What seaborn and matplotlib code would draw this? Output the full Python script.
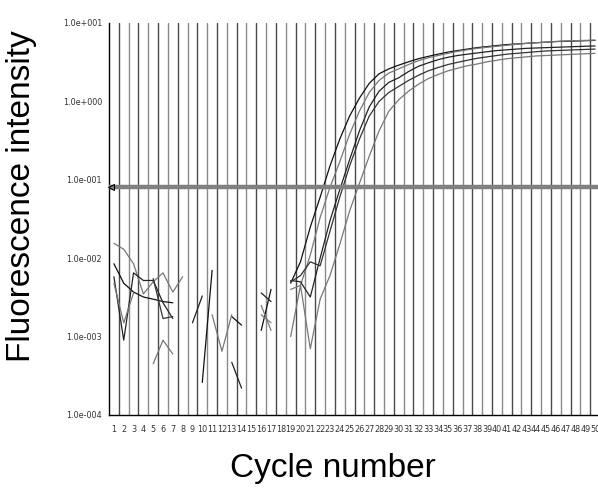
import numpy as np
import pandas as pd
import matplotlib
matplotlib.use("Agg")
import matplotlib.pyplot as plt
import matplotlib.font_manager as fm
import seaborn as sns

nan = np.nan
cycles = list(range(1, 51))

# amplification curves, fluorescence per cycle (nan = no point drawn)
curve_a = [0.0085, 0.0048, 0.0037, 0.0032, 0.003, 0.0028, 0.0027, nan, nan, 0.00026,
           0.007, nan, 0.0018, 0.0014, nan, 0.0012, 0.004, nan, 0.0048, 0.009,
           0.025, 0.06, 0.15, 0.33, 0.65, 1.1, 1.7, 2.25, 2.6, 2.9,
           3.2, 3.5, 3.75, 4.0, 4.25, 4.45, 4.65, 4.85, 5.0, 5.15,
           5.3, 5.4, 5.5, 5.6, 5.7, 5.8, 5.85, 5.9, 5.95, 6.0]
curve_b = [0.0155, 0.013, 0.0085, 0.0035, 0.005, 0.0065, 0.0037, 0.0058, nan, nan,
           0.0019, 0.00065, 0.0019, nan, nan, 0.0025, 0.0012, nan, 0.004, 0.0045,
           0.011, 0.033, 0.08, 0.17, 0.38, 0.75, 1.3, 1.85, 2.3, 2.6,
           2.95, 3.3, 3.6, 3.85, 4.1, 4.35, 4.55, 4.75, 4.9, 5.05,
           5.2, 5.35, 5.5, 5.6, 5.7, 5.8, 5.9, 5.95, 6.0, 6.05]
curve_c = [0.0058, 0.0009, 0.0065, 0.0052, 0.0052, 0.0027, 0.0017, nan, 0.0015, 0.0033,
           nan, nan, 0.00047, 0.00022, nan, 0.0036, 0.0028, nan, 0.0052, 0.005,
           0.0032, 0.01, 0.03, 0.075, 0.18, 0.42, 0.85, 1.35, 1.75, 2.0,
           2.4, 2.8, 3.1, 3.4, 3.65, 3.85, 4.0, 4.15, 4.3, 4.45,
           4.55, 4.65, 4.75, 4.8, 4.85, 4.9, 4.95, 5.0, 5.05, 5.1]
curve_d = [0.0048, 0.0015, 0.0036, nan, 0.00045, 0.0009, 0.0006, nan, nan, nan,
           nan, nan, nan, nan, nan, 0.0019, 0.0015, nan, 0.001, 0.0045,
           0.0007, 0.003, 0.006, 0.015, 0.04, 0.09, 0.2, 0.42, 0.75, 1.05,
           1.35, 1.65, 1.95, 2.2, 2.45, 2.65, 2.85, 3.0, 3.2, 3.35,
           3.5, 3.6, 3.7, 3.8, 3.85, 3.9, 3.95, 4.0, 4.05, 4.1]
curve_e = [nan, nan, nan, nan, 0.0055, 0.0017, 0.0018, nan, nan, nan,
           nan, nan, nan, nan, nan, nan, nan, nan, 0.005, 0.006,
           0.009, 0.008, 0.022, 0.06, 0.15, 0.33, 0.65, 1.0, 1.3, 1.55,
           1.85, 2.15, 2.45, 2.7, 2.95, 3.15, 3.35, 3.55, 3.7, 3.85,
           4.0, 4.1, 4.2, 4.3, 4.4, 4.45, 4.5, 4.55, 4.6, 4.65]

threshold = 0.08
ytick_vals = [1e-4, 1e-3, 1e-2, 1e-1, 1e0, 1e1]
ytick_labels = ["1.0e-004", "1.0e-003", "1.0e-002", "1.0e-001", "1.0e+000", "1.0e+001"]

curves = {"A": curve_a, "B": curve_b, "C": curve_c, "D": curve_d, "E": curve_e}
colors = {"A": "#111111", "B": "#777777", "C": "#222222", "D": "#777777", "E": "#333333"}

# long table, split each curve into contiguous segments so gaps stay open
rows = []
for name, vals in curves.items():
    seg = 0
    prev_ok = False
    for c, v in zip(cycles, vals):
        if np.isnan(v):
            prev_ok = False
            continue
        if not prev_ok:
            seg += 1
        prev_ok = True
        rows.append({"cycle": c, "value": v, "curve": name, "seg": f"{name}{seg}"})
df = pd.DataFrame(rows)

sns.set_style("white")
plt.rcParams["font.family"] = ["Liberation Sans", "DejaVu Sans"]
plt.rcParams["text.color"] = "black"

# condensed font for the crowded tick labels, if one is installed
narrow_files = [f.fname for f in fm.fontManager.ttflist
                if "narrow" in f.fname.lower() or "condensed" in f.fname.lower()]
narrow_files = sorted(narrow_files, key=lambda p: ("bold" in p.lower() or "oblique" in p.lower()
                                                  or "italic" in p.lower(), p))
if narrow_files:
    tick_font = fm.FontProperties(fname=narrow_files[0], size=6.5)
else:
    tick_font = fm.FontProperties(family="Liberation Sans", size=5.6)

fig = plt.figure(figsize=(5.98, 4.99), dpi=100)
ax = fig.add_axes([109 / 598, 1 - 415 / 499, 491 / 598, 392 / 499])

# vertical cycle grid
for i, x in enumerate(np.arange(1.5, 51, 1.0)):
    ax.axvline(x, color="#4a4a4a" if i % 2 == 0 else "#8a8a8a", lw=1.0, zorder=1)

sns.lineplot(data=df, x="cycle", y="value", hue="curve", units="seg", estimator=None,
             palette=colors, lw=0.9, legend=False, ax=ax, zorder=3)

# threshold line with arrow ends
ax.axhline(threshold, color="#808080", lw=3.2, zorder=4)
ax.plot([0.75], [threshold], marker="<", color="black", ms=5, mfc="none", mew=0.8,
        zorder=5, clip_on=False)

ax.set_yscale("log")
ax.set_ylim(1e-4, 1e1)
ax.set_xlim(0.5, 50.5)
ax.set_yticks(ytick_vals)
ax.set_yticklabels(ytick_labels)
ax.minorticks_off()
ax.set_xticks(cycles)
ax.set_xticklabels([str(c) for c in cycles])
for lab in ax.get_xticklabels() + ax.get_yticklabels():
    lab.set_fontproperties(tick_font)
    lab.set_color("#333333")
ax.tick_params(axis="both", length=0)
ax.tick_params(axis="x", pad=7)
ax.tick_params(axis="y", pad=5)
ax.set_xlabel("")
ax.set_ylabel("")

for s in ["top", "right"]:
    ax.spines[s].set_visible(False)
for s in ["left", "bottom"]:
    ax.spines[s].set_color("black")
    ax.spines[s].set_linewidth(1.0)

fig.text(22 / 598, 1 - 196 / 499, "Fluorescence intensity", rotation=90,
         ha="center", va="center", fontsize=24, color="black", family="Liberation Sans")
fig.text(333 / 598, 1 - 468 / 499, "Cycle number", ha="center", va="center",
         fontsize=24, color="black", family="Liberation Sans")

fig.savefig("out.png", dpi=100)
